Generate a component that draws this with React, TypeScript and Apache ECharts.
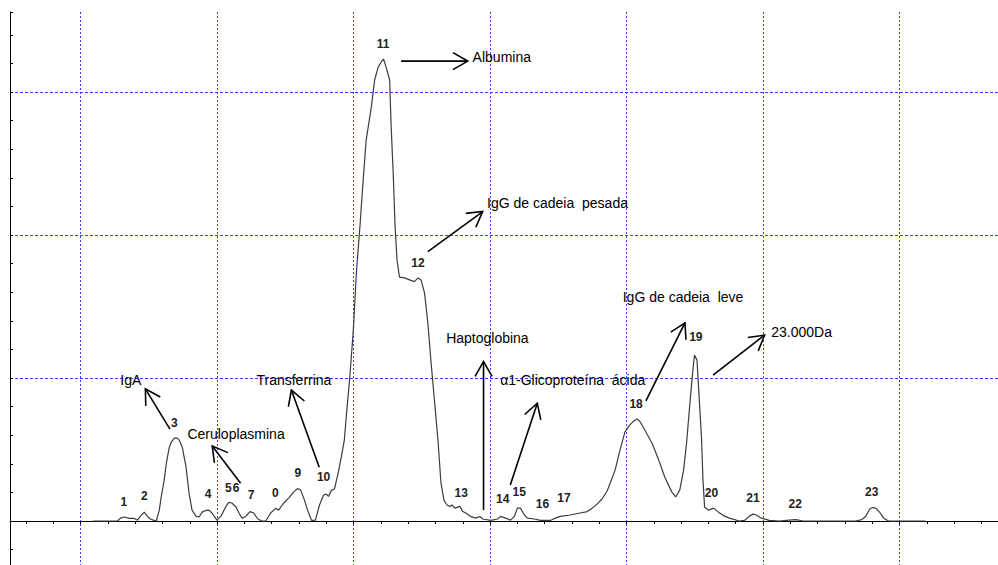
import React, { useEffect, useRef } from "react";
import * as echarts from "echarts";

// Densitometric scan: position along the gel (x) and optical density (y)
const traceX = [
  4.4, 13.5, 14.6, 16.0, 17.9, 19.7, 20.8, 21.9, 23.3, 24.4,
  25.5, 26.6, 27.7, 28.8, 29.5, 30.6, 31.4, 32.4, 33.2, 34.3,
  35.4, 36.1, 37.2, 37.9, 38.6, 39.7, 40.8, 42.3, 43.4, 44.5,
  45.9, 47.0, 48.1, 49.9, 51.4, 53.2, 54.3, 55.4, 56.9, 58.0,
  59.1, 60.5, 62.0, 63.4, 64.9, 66.4, 67.8, 69.6, 71.5, 72.5,
  74.4, 76.2, 78.0, 79.5, 80.6, 82.0, 83.1, 84.6, 86.0, 87.5,
  89.0, 90.0, 90.8, 91.9, 93.0, 94.4, 95.5, 96.6, 97.3, 98.6,
  99.9, 101.0, 102.3, 103.5, 104.6, 106.5, 107.7, 109.0, 110.1, 111.0,
  111.9, 113.2, 113.7, 114.5, 115.2, 115.9, 116.8, 118.7, 120.5, 122.3,
  123.6, 124.7, 126.0, 127.2, 128.3, 129.6, 130.9, 132.0, 133.1, 134.2,
  135.3, 136.0, 137.1, 138.9, 140.0, 141.1, 142.9, 144.7, 146.2, 147.3,
  150.2, 152.8, 153.8, 155.7, 157.5, 158.9, 160.0, 161.1, 162.6, 163.7,
  166.2, 168.4, 172.1, 173.9, 175.7, 179.4, 183.0, 185.6, 187.4, 189.2,
  191.0, 192.9, 194.3, 195.8, 197.6, 199.4, 201.2, 202.7, 203.8, 204.9,
  206.7, 209.3, 211.8, 214.0, 216.6, 218.0, 219.5, 220.9, 222.0, 223.1,
  224.2, 224.9, 225.8, 226.6, 227.5, 228.0, 228.6, 230.0, 231.9, 233.7,
  235.5, 237.7, 241.3, 243.2, 245.0, 246.4, 247.5, 249.4, 252.3, 255.9,
  259.6, 262.1, 264.7, 284.0, 286.2, 287.6, 289.1, 290.2, 291.3, 292.7,
  294.2, 296.0, 309.5,
];
const traceY = [
  0, 0, 1.0, 1.4, 0.9, 0.9, 0.3, 1.7, 3.1, 1.7,
  0.7, 0.3, 0, 3.8, 8.4, 14.3, 20.3, 25.5, 27.6, 29.0,
  29.0, 28.3, 25.9, 22.4, 18.9, 9.8, 3.8, 1.6, 1.4, 3.1,
  3.7, 3.8, 2.8, 0.3, 1.7, 5.1, 6.5, 6.3, 4.9, 2.8,
  1.0, 1.6, 3.3, 2.8, 0.7, 0, 0, 2.8, 4.5, 3.8,
  6.3, 8.0, 10.1, 11.4, 10.8, 7.3, 3.8, 0.2, 0.3, 5.6,
  9.1, 9.4, 8.6, 10.8, 11.2, 17.1, 22.4, 28.3, 36.4, 50.3,
  66.8, 86.7, 102.8, 119.2, 133.2, 144.8, 154.2, 158.7, 160.5, 161.5,
  158.7, 154.2, 139.2, 121.7, 102.8, 91.3, 85.3, 85.0, 84.3, 83.7,
  85.0, 84.3, 79.7, 69.2, 56.3, 42.3, 28.3, 13.3, 7.3, 5.6,
  5.1, 5.6, 4.5, 5.1, 3.3, 2.8, 1.6, 1.0, 1.6, 0.7,
  0.2, 0.7, 1.6, 1.0, 0.3, 1.6, 4.5, 4.5, 2.1, 1.0,
  0.7, 0.2, 0.2, 1.0, 1.6, 2.1, 2.8, 3.3, 4.5, 5.9,
  7.7, 10.5, 14.0, 17.8, 24.8, 31.1, 33.6, 35.0, 35.7, 34.8,
  31.8, 27.3, 21.3, 15.4, 10.1, 8.4, 10.8, 17.8, 27.3, 39.9,
  51.7, 58.0, 56.3, 43.4, 28.3, 14.3, 4.9, 3.8, 4.5, 3.1,
  1.9, 1.0, 0, 0.2, 1.7, 2.4, 2.1, 1.0, 0.2, 0,
  0.3, 0.5, 0, 0, 0.5, 1.6, 4.2, 4.7, 4.5, 3.1,
  1.0, 0, 0,
];

// Peak numbers and where they are written
const peakNumbers = ["1", "2", "3", "4", "5", "6", "7", "0", "9", "10", "11", "12", "13", "14", "15", "16", "17", "18", "19", "20", "21", "22", "23"];
const peakLabelX = [15.8, 23.3, 34.3, 46.7, 54.1, 56.9, 62.4, 71.3, 79.6, 89.0, 110.8, 123.6, 139.4, 154.6, 160.7, 169.2, 177.1, 203.5, 225.4, 231.1, 246.3, 261.8, 289.8];
const peakLabelY = [6.6, 8.7, 34.4, 9.3, 11.5, 11.5, 9.1, 9.9, 16.7, 15.3, 166.8, 90.1, 9.9, 7.6, 10.2, 5.8, 7.9, 40.9, 64.2, 9.7, 7.9, 5.9, 10.2];

// Protein names (left-anchored)
const proteinNames = ["Albumina", "IgG de cadeia  pesada", "IgG de cadeia  leve", "23.000Da", "Haptoglobina", "α1-Glicoproteína  ácida", "IgA", "Transferrina", "Ceruloplasmina"];
const proteinLabelX = [143.6, 148.9, 198.6, 253.0, 133.9, 153.7, 14.5, 64.4, 39.1];
const proteinLabelY = [162.1, 111.3, 78.2, 66.0, 63.9, 49.3, 49.3, 49.3, 30.3];

// Arrows (tail -> head), one per protein name
const arrowTailX = [117.4, 127.2, 207.1, 231.7, 147.6, 157.4, 32.7, 87.4, 58.6];
const arrowTailY = [160.8, 94.2, 42.0, 51.0, 3.8, 12.6, 32.1, 18.8, 13.2];
const arrowHeadX = [141.8, 147.3, 221.4, 250.6, 147.6, 167.3, 23.7, 77.2, 48.2];
const arrowHeadY = [160.8, 108.2, 69.3, 65.0, 55.7, 41.2, 46.2, 45.8, 26.2];

const X_MIN = -25.9;
const X_MAX = 336.1;
const Y_MIN = -15.38;
const Y_MAX = 177.97;

const GRID_BLUE = "#3b3bff";

export default function App() {
  const ref = useRef<HTMLDivElement>(null);

  useEffect(() => {
    if (!ref.current) return;
    const chart = echarts.init(ref.current, undefined, { renderer: "svg" });

    const tickAxisX = {
      type: "value",
      position: "top",
      min: X_MIN,
      max: X_MAX,
      minInterval: 10,
      maxInterval: 10,
      axisLine: { show: true, lineStyle: { color: "#000", width: 1 } },
      axisTick: { show: true, inside: true, length: 3, lineStyle: { color: "#000", width: 1 } },
      axisLabel: { show: false },
      splitLine: { show: false },
    };
    const gridAxisX = {
      type: "value",
      position: "top",
      min: X_MIN,
      max: X_MAX,
      minInterval: 50,
      maxInterval: 50,
      axisLine: { show: false },
      axisTick: { show: false },
      axisLabel: { show: false },
      splitLine: {
        show: true,
        showMinLine: false,
        showMaxLine: false,
        lineStyle: { color: GRID_BLUE, width: 1, type: [2, 2] },
      },
    };
    const tickAxisY = {
      type: "value",
      position: "left",
      min: Y_MIN,
      max: Y_MAX,
      minInterval: 10,
      maxInterval: 10,
      axisLine: { show: true, onZero: false, lineStyle: { color: "#000", width: 1 } },
      axisTick: { show: true, inside: true, length: 3, lineStyle: { color: "#000", width: 1 } },
      axisLabel: { show: false },
      splitLine: { show: false },
    };
    const gridAxisY = {
      type: "value",
      position: "left",
      min: Y_MIN,
      max: Y_MAX,
      minInterval: 50,
      maxInterval: 50,
      axisLine: { show: false },
      axisTick: { show: false },
      axisLabel: { show: false },
      splitLine: {
        show: true,
        showMinLine: false,
        showMaxLine: false,
        lineStyle: { color: GRID_BLUE, width: 1, type: [3, 2] },
      },
    };

    const traceData = traceX.map((x, i) => [x, traceY[i]]);
    const peakData = peakLabelX.map((x, i) => [x, peakLabelY[i]]);
    const nameData = proteinLabelX.map((x, i) => [x, proteinLabelY[i]]);
    const arrowData = arrowTailX.map((x, i) => [x, arrowTailY[i], arrowHeadX[i], arrowHeadY[i]]);

    chart.setOption({
      animation: false,
      backgroundColor: "#fff",
      grid: { left: 10, top: 12, right: -5, bottom: 0, containLabel: false },
      xAxis: [tickAxisX, gridAxisX],
      yAxis: [tickAxisY, gridAxisY],
      series: [
        {
          type: "line",
          xAxisIndex: 0,
          yAxisIndex: 0,
          data: traceData,
          showSymbol: false,
          symbol: "none",
          lineStyle: { color: "#3c3c3c", width: 1.2 },
          z: 3,
          silent: true,
        },
        {
          type: "custom",
          xAxisIndex: 0,
          yAxisIndex: 0,
          data: arrowData,
          encode: { x: [0, 2], y: [1, 3] },
          z: 4,
          silent: true,
          renderItem: (params: any, api: any) => {
            const t = api.coord([api.value(0), api.value(1)]);
            const h = api.coord([api.value(2), api.value(3)]);
            const ang = Math.atan2(h[1] - t[1], h[0] - t[0]);
            const L = 17;
            const a = Math.PI / 6;
            const w1 = [h[0] - L * Math.cos(ang - a), h[1] - L * Math.sin(ang - a)];
            const w2 = [h[0] - L * Math.cos(ang + a), h[1] - L * Math.sin(ang + a)];
            return {
              type: "group",
              children: [
                { type: "line", shape: { x1: t[0], y1: t[1], x2: h[0], y2: h[1] }, style: { stroke: "#000", lineWidth: 1.6 } },
                { type: "polyline", shape: { points: [w1, h, w2] }, style: { stroke: "#000", lineWidth: 1.6, fill: null } },
              ],
            };
          },
        },
        {
          type: "custom",
          xAxisIndex: 0,
          yAxisIndex: 0,
          data: peakData,
          z: 5,
          silent: true,
          renderItem: (params: any, api: any) => {
            const p = api.coord([api.value(0), api.value(1)]);
            return {
              type: "text",
              x: p[0],
              y: p[1],
              style: {
                text: peakNumbers[params.dataIndex],
                fontFamily: "'Liberation Sans', Arial, sans-serif",
                fontSize: 12,
                fontWeight: "bold",
                fill: "#222",
                align: "center",
                verticalAlign: "middle",
              },
            };
          },
        },
        {
          type: "custom",
          xAxisIndex: 0,
          yAxisIndex: 0,
          data: nameData,
          z: 5,
          silent: true,
          renderItem: (params: any, api: any) => {
            const p = api.coord([api.value(0), api.value(1)]);
            return {
              type: "text",
              x: p[0],
              y: p[1],
              style: {
                text: proteinNames[params.dataIndex],
                fontFamily: "'Liberation Sans', Arial, sans-serif",
                fontSize: 14,
                fill: "#000",
                align: "left",
                verticalAlign: "middle",
              },
            };
          },
        },
      ],
    });

    return () => chart.dispose();
  }, []);

  return (
    <div
      ref={ref}
      style={{ position: "fixed", left: 0, top: 0, width: 998, height: 565, background: "#fff" }}
    />
  );
}
